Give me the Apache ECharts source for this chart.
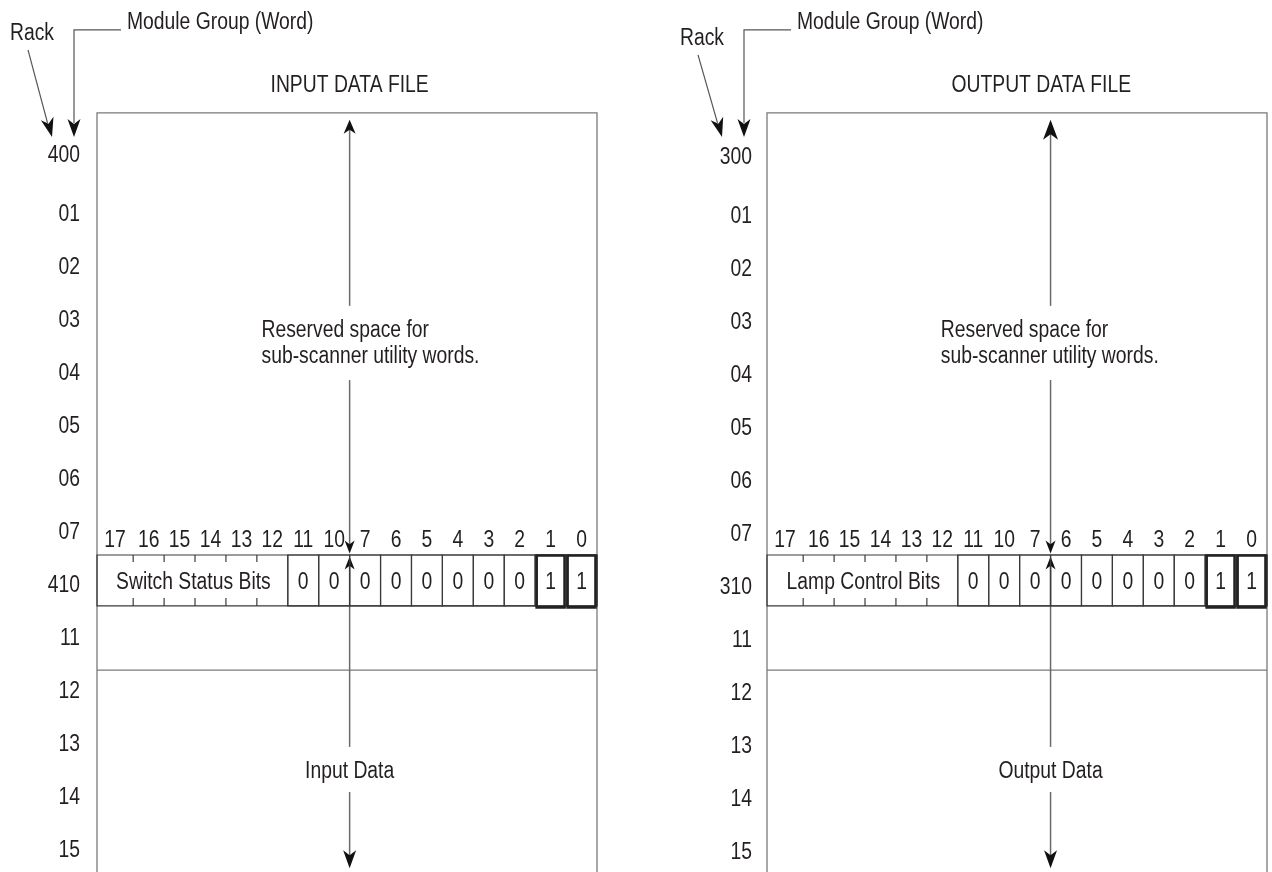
<!DOCTYPE html>
<html><head><meta charset="utf-8">
<script src="https://cdn.jsdelivr.net/npm/echarts@6/dist/echarts.min.js"></script>
<style>html,body{margin:0;padding:0;background:#fff}#c{width:1272px;height:872px}</style>
</head><body><div id="c"></div>
<script>
// ---------- data ----------
const inputRowLabels  = ['400','01','02','03','04','05','06','07','410','11','12','13','14','15'];
const outputRowLabels = ['300','01','02','03','04','05','06','07','310','11','12','13','14','15'];
const bitLabels = ['17','16','15','14','13','12','11','10','7','6','5','4','3','2','1','0'];
const inputBitValues  = [0,0,0,0,0,0,0,0,1,1];   // bits 11,10,7,6,5,4,3,2,1,0
const outputBitValues = [0,0,0,0,0,0,0,0,1,1];
const panelTitles = ['INPUT DATA FILE','OUTPUT DATA FILE'];
const fieldLabels = ['Switch Status Bits','Lamp Control Bits'];
const reservedText = 'Reserved space for\nsub-scanner utility words.';
const dataLabels = ['Input Data','Output Data'];
const rackLabel = 'Rack';
const moduleLabel = 'Module Group (Word)';

// ---------- layout / style ----------
const FONT = '"Liberation Sans",Arial,sans-serif';
const FS = 23;
const SX = 0.84;                 // horizontal condensing of the text
const TXT = '#231f20';
const BOXC = '#7a7a7a';
const CELLC = '#3a3a3a';
const X_MIN = -1.17, X_MAX = 15, Y_MIN = -1, Y_MAX = 13.45;
const ROW_TOP = 7.47, ROW_BOTTOM = 8.43, BOX_TOP = -0.87, SPLIT_Y = 9.64, HEADER_Y = 7.19;
const FIELD_CELLS = 6;

const panels = [
  {left: 97,  rows: inputRowLabels,  bits: inputBitValues,  title: panelTitles[0], field: fieldLabels[0], dataLabel: dataLabels[0],
   arrowCol: 7, titleCol: 7,   reservedCol: 4.15, annoDy: 0, labelGap: 17, labelDy: 0, topHead: [14, 6]},
  {left: 767, rows: outputRowLabels, bits: outputBitValues, title: panelTitles[1], field: fieldLabels[1], dataLabel: dataLabels[1],
   arrowCol: 8, titleCol: 7.7, reservedCol: 4.45, annoDy: 5, labelGap: 15, labelDy: 2, topHead: [20, 7.5]}
];

function txt(x, y, text, align, lh) {
  const st = {text: text, fill: TXT, fontFamily: FONT, fontSize: FS, align: align || 'center', verticalAlign: 'middle'};
  if (lh) st.lineHeight = lh;
  return {type: 'text', x: x, y: y, scaleX: SX, silent: true, style: st};
}
function line(x1, y1, x2, y2, stroke, w) {
  return {type: 'line', shape: {x1: x1, y1: y1, x2: x2, y2: y2}, style: {stroke: stroke, lineWidth: w}};
}
function head(tx, ty, dx, dy, len, hw, fill) {
  const n = Math.hypot(dx, dy); dx /= n; dy /= n;
  const px = -dy, py = dx;
  const bx = tx - dx * len, by = ty - dy * len;
  const nx = tx - dx * len * 0.72, ny = ty - dy * len * 0.72;
  return {type: 'polygon', shape: {points: [[tx, ty], [bx + px * hw, by + py * hw], [nx, ny], [bx - px * hw, by - py * hw]]},
    style: {fill: fill || '#111'}};
}

const grids = [], xAxes = [], yAxes = [], series = [];
panels.forEach(function (p, pi) {
  grids.push({left: p.left, width: 500, top: 106, height: 766});
  xAxes.push({type: 'value', gridIndex: pi, min: X_MIN, max: X_MAX, show: false});
  yAxes.push({type: 'value', gridIndex: pi, min: Y_MIN, max: Y_MAX, inverse: true, show: false});
  const base = {type: 'custom', xAxisIndex: pi, yAxisIndex: pi, silent: true, animation: false, clip: false};

  // frame: box, bit row, arrows, texts
  series.push(Object.assign({}, base, {
    data: [[0, 0]],
    renderItem: function (params, api) {
      const c = function (x, y) { return api.coord([x, y]); };
      const xl = c(X_MIN, 0)[0], xr = c(X_MAX, 0)[0];
      const yt = c(0, BOX_TOP)[1], yb = c(0, Y_MAX)[1];
      const rt = c(0, ROW_TOP)[1], rb = c(0, ROW_BOTTOM)[1];
      const ax = c(p.arrowCol, 0)[0];
      const ch = [];
      // outer box
      ch.push({type: 'polyline', shape: {points: [[xl, yb], [xl, yt], [xr, yt], [xr, yb]]}, style: {stroke: BOXC, lineWidth: 1.3, fill: null}});
      // split line
      const sy = c(0, SPLIT_Y)[1];
      ch.push(line(xl, sy, xr, sy, BOXC, 1.3));
      // center arrows
      const AC = '#6a6a6a';
      const t1 = c(0, -0.74)[1];
      ch.push(line(ax, t1 + 8, ax, c(0, 2.77)[1], AC, 1.5));
      ch.push(head(ax, t1, 0, -1, p.topHead[0], p.topHead[1]));
      ch.push(line(ax, c(0, 4.17)[1], ax, rt - 8, AC, 1.5));
      ch.push(head(ax, rt - 1.5, 0, 1, 13, 5));
      ch.push(line(ax, rt + 8, ax, c(0, 11.09)[1], AC, 1.5));
      ch.push(head(ax, rt + 1.5, 0, -1, 13, 5));
      const b1 = c(0, 13.38)[1];
      ch.push(line(ax, c(0, 11.94)[1], ax, b1 - 10, AC, 1.5));
      ch.push(head(ax, b1, 0, 1, 18, 6.5));
      // bit row frame
      ch.push({type: 'rect', shape: {x: xl, y: rt, width: xr - xl, height: rb - rt}, style: {stroke: CELLC, lineWidth: 1.2, fill: null}});
      // ticks inside the field-label cell
      for (let k = 0; k < FIELD_CELLS - 1; k++) {
        const tx = c(k, 0)[0];
        ch.push(line(tx, rt, tx, rt + 7, CELLC, 1.2));
        ch.push(line(tx, rb - 8, tx, rb, CELLC, 1.2));
      }
      const fx = c(FIELD_CELLS - 1, 0)[0];
      ch.push(line(fx, rt, fx, rb, CELLC, 1.2));
      ch.push(txt((xl + fx) / 2 + 1, (rt + rb) / 2 + 2.5, p.field, 'center'));
      // title
      ch.push(txt(c(p.titleCol, 0)[0], c(0, -1.40)[1] + 1, p.title, 'center'));
      // reserved text
      ch.push(txt(c(p.reservedCol, 0)[0], c(0, 3.45)[1] + 2, reservedText, 'left', 26));
      // data label
      ch.push(txt(ax, c(0, 11.53)[1] + 1.5, p.dataLabel, 'center'));
      // annotations: Rack and Module Group (Word)
      const tipY = yt + 24;
      const d = p.annoDy;
      ch.push(txt(xl - 65, yt - 79 + d, rackLabel, 'center'));
      ch.push(line(xl - 69, yt - 63 + d, xl - 49.5, tipY - 14, '#555', 1.2));
      ch.push(head(xl - 45, tipY, 23, 88 - d, 19, 6.5));
      ch.push(txt(xl + 30, yt - 90, moduleLabel, 'left'));
      ch.push({type: 'polyline', shape: {points: [[xl + 24, yt - 83], [xl - 23, yt - 83], [xl - 23, tipY - 14]]}, style: {stroke: '#555', lineWidth: 1.2, fill: null}});
      ch.push(head(xl - 23, tipY, 0, 1, 18, 6.5));
      return {type: 'group', children: ch};
    }
  }));

  // row labels (word addresses)
  series.push(Object.assign({}, base, {
    data: p.rows.map(function (l, i) { return [X_MIN, i]; }),
    renderItem: function (params, api) {
      const pt = api.coord([api.value(0), api.value(1)]);
      const dy = (params.dataIndex === 0 ? -3 : 2.5) + p.labelDy;
      return txt(pt[0] - p.labelGap, pt[1] + dy, p.rows[params.dataIndex], 'right');
    }
  }));

  // bit number header
  series.push(Object.assign({}, base, {
    data: bitLabels.map(function (l, j) { return [j === 0 ? (X_MIN + 0) / 2 : j - 0.5, HEADER_Y]; }),
    renderItem: function (params, api) {
      const pt = api.coord([api.value(0), api.value(1)]);
      return txt(pt[0], pt[1] + 1, bitLabels[params.dataIndex], 'center');
    }
  }));

  // bit cells with values
  series.push(Object.assign({}, base, {
    data: p.bits.map(function (v, k) { return [FIELD_CELLS + k, v]; }),
    renderItem: function (params, api) {
      const j = api.value(0), v = api.value(1);
      const a = api.coord([j - 1, ROW_TOP]), b = api.coord([Math.min(j, X_MAX), ROW_BOTTOM]);
      const ch = [{type: 'rect', shape: {x: a[0], y: a[1], width: b[0] - a[0], height: b[1] - a[1]}, style: {stroke: CELLC, lineWidth: 1.2, fill: null}}];
      if (v === 1) {
        ch.push({type: 'rect', shape: {x: a[0] + 1.5, y: a[1] + 0.5, width: b[0] - a[0] - 3, height: b[1] - a[1] + 1}, style: {stroke: '#222', lineWidth: 2.6, fill: null}});
      }
      ch.push(txt((a[0] + b[0]) / 2, (a[1] + b[1]) / 2 + 2.5, String(v), 'center'));
      return {type: 'group', children: ch};
    }
  }));
});

const chart = echarts.init(document.getElementById('c'), null, {renderer: 'canvas'});
chart.setOption({animation: false, backgroundColor: '#fff', grid: grids, xAxis: xAxes, yAxis: yAxes, series: series});
</script></body></html>
